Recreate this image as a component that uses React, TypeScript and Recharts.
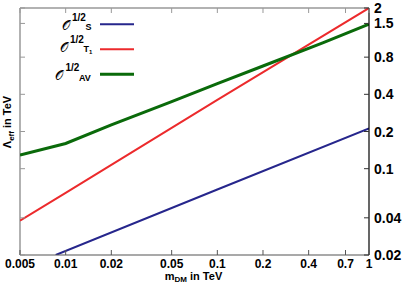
import React from 'react';
import { LineChart, Line, XAxis, YAxis, Customized } from 'recharts';

const xTicks = [0.005, 0.01, 0.02, 0.05, 0.1, 0.2, 0.4, 0.7, 1];
const yTicks = [0.02, 0.04, 0.1, 0.2, 0.4, 0.8, 1.5, 2];

const massS = [0.0086, 0.1, 1];
const lambdaS = [0.02, 0.0678, 0.212];
const massT1 = [0.005, 0.01, 0.1, 1];
const lambdaT1 = [0.038, 0.0638, 0.36, 2.0];
const massAV = [0.005, 0.01, 0.02, 0.05, 0.1, 0.2, 0.5, 1];
const lambdaAV = [0.129, 0.16, 0.226, 0.349, 0.489, 0.678, 1.05, 1.48];

const zip = (xs: number[], ys: number[]) => xs.map((x, i) => ({ x, y: ys[i] }));
const dataS = zip(massS, lambdaS);
const dataT1 = zip(massT1, lambdaT1);
const dataAV = zip(massAV, lambdaAV);

const FONT = '"Liberation Sans", Arial, Helvetica, sans-serif';
const OFONT = '"DejaVu Sans", "Noto Sans", sans-serif';
const BLUE = '#26268c';
const RED = '#ec2a2c';
const GREEN = '#0a6a0a';

const fmt = (v: number) => String(v);

const BottomTick = (p: any) => (
  <g>
    <line x1={p.x} x2={p.x} y1={p.y} y2={p.y - 5} stroke="#555" strokeWidth={1} />
    <line x1={p.x} x2={p.x} y1={8} y2={13} stroke="#999" strokeWidth={1} />
    <text x={p.x} y={p.y + 12.5} textAnchor="middle" fontFamily={FONT} fontWeight="bold" fontSize={12} fill="#000">
      {fmt(p.payload.value)}
    </text>
  </g>
);
const RightTick = (p: any) => (
  <g>
    <line x1={p.x} x2={p.x - 5} y1={p.y} y2={p.y} stroke="#333" strokeWidth={1} />
    <line x1={20} x2={25} y1={p.y} y2={p.y} stroke="#999" strokeWidth={1} />
    <text x={p.x + 5} y={p.y + 5} textAnchor="start" fontFamily={FONT} fontWeight="bold" fontSize={14} fill="#000">
      {fmt(p.payload.value)}
    </text>
  </g>
);

const Decorations = () => (
  <g fontFamily={FONT} fill="#000">
    {/* frame top & left */}
    <line x1={20} x2={369} y1={8} y2={8} stroke="#999" strokeWidth={1.3} />
    <line x1={20} x2={20} y1={8} y2={255} stroke="#999" strokeWidth={1.5} />
    {/* legend */}
    <text x={62} y={29.5} fontSize={13} fontFamily={OFONT}>𝒪</text>
    <text x={72} y={20.5} fontSize={10} fontWeight="bold">1/2</text>
    <text x={85.5} y={29.5} fontSize={9} fontWeight="bold">S</text>
    <line x1={100} x2={134} y1={24.3} y2={24.3} stroke={BLUE} strokeWidth={2} />

    <text x={60} y={51.7} fontSize={13} fontFamily={OFONT}>𝒪</text>
    <text x={70} y={42.5} fontSize={10} fontWeight="bold">1/2</text>
    <text x={83.5} y={51.7} fontSize={9} fontWeight="bold">T</text>
    <text x={89} y={54} fontSize={6} fontWeight="bold">1</text>
    <line x1={100} x2={134} y1={49.3} y2={49.3} stroke={RED} strokeWidth={2} />

    <text x={55} y={80.3} fontSize={13} fontFamily={OFONT}>𝒪</text>
    <text x={65.5} y={71.3} fontSize={10} fontWeight="bold">1/2</text>
    <text x={79} y={80.7} fontSize={9} fontWeight="bold">AV</text>
    <line x1={100} x2={134} y1={74.3} y2={74.3} stroke={GREEN} strokeWidth={3} />

    {/* axis titles */}
    <text x={193.5} y={279.5} textAnchor="middle" fontSize={11} fontWeight="bold">
      m<tspan fontSize={8} dy={2.5}>DM</tspan><tspan dy={-2.5}> in TeV</tspan>
    </text>
    <text transform="translate(11,122) rotate(-90)" textAnchor="middle" fontSize={11} fontWeight="bold">
      Λ<tspan fontSize={8} dy={2.5}>eff</tspan><tspan dy={-2.5}> in TeV</tspan>
    </text>
  </g>
);

export default function App() {
  return (
    <div style={{ position: 'absolute', left: 0, top: 0, width: 413, height: 289, background: '#fff' }}>
      <LineChart width={413} height={289} margin={{ top: 8, right: 0, bottom: 0, left: 20 }}>
        <XAxis
          xAxisId="b"
          dataKey="x"
          type="number"
          scale="log"
          domain={[0.005, 1]}
          allowDataOverflow
          ticks={xTicks}
          orientation="bottom"
          height={34}
          tickSize={0}
          tickMargin={0}
          tickLine={false}
          axisLine={{ stroke: '#555', strokeWidth: 1.2 }}
          tick={<BottomTick />}
          interval={0}
        />
        <YAxis
          yAxisId="r"
          dataKey="y"
          type="number"
          scale="log"
          domain={[0.02, 2]}
          allowDataOverflow
          ticks={yTicks}
          orientation="right"
          width={44}
          tickSize={0}
          tickMargin={0}
          tickLine={false}
          axisLine={{ stroke: '#000', strokeWidth: 1.2 }}
          tick={<RightTick />}
          interval={0}
        />
        <Line xAxisId="b" yAxisId="r" data={dataS} dataKey="y" stroke={BLUE} strokeWidth={2} dot={false} isAnimationActive={false} />
        <Line xAxisId="b" yAxisId="r" data={dataT1} dataKey="y" stroke={RED} strokeWidth={2} dot={false} isAnimationActive={false} />
        <Line xAxisId="b" yAxisId="r" data={dataAV} dataKey="y" stroke={GREEN} strokeWidth={3} dot={false} isAnimationActive={false} />
        <Customized component={Decorations} />
      </LineChart>
    </div>
  );
}
